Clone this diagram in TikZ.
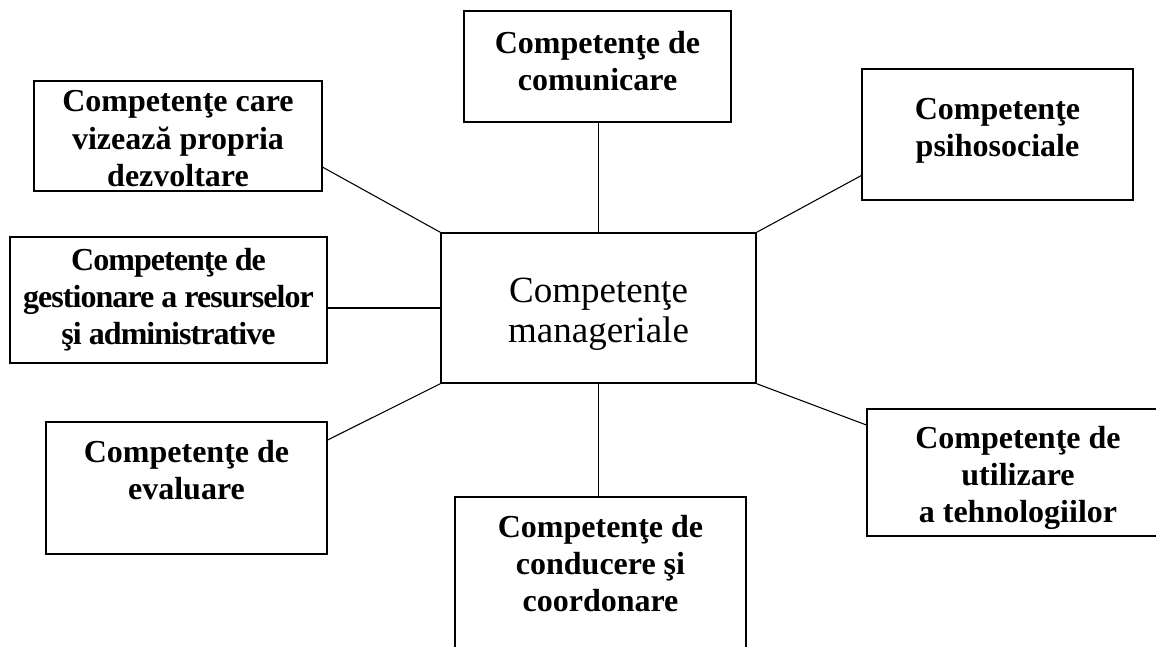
\documentclass[tikz,border=0pt]{standalone}
\usepackage{fontspec}
\setmainfont{Liberation Serif}
\usetikzlibrary{positioning}
\usetikzlibrary{calc}
\tikzset{
	compBox/.style={rectangle, draw=black, line width=1.1pt, inner sep=0pt},
	boxDim/.style 2 args={minimum width=#1*0.75pt, minimum height=#2*0.75pt},
	compText/.style={align=center, inner sep=0pt, font=\fontsize{24}{28}\selectfont\bfseries},
	tightText/.style={compText, font=\fontsize{24}{28}\selectfont\bfseries\addfontfeature{LetterSpace=-3}},
	mainText/.style={align=center, inner sep=0pt, font=\fontsize{27.75}{30}\selectfont},
	link/.style={line width=0.8pt},
}

\begin{document}
\begin{tikzpicture}[x=0.75pt, y=-0.75pt]

		% page frame - the two lower boxes run off the page
		\path[use as bounding box, clip] (0,0) rectangle (1156,646);

		% central box
		\node[compBox, boxDim={315}{150}] (mgr) at (598.5,308) {};
		\node[mainText, below=33.75pt of mgr.north] (mgrTxt) {Competenţe\\manageriale};

		% surrounding boxes
		\node[compBox, boxDim={267}{111}] (comm) at (597.5,66.5) {};
		\node[compBox, boxDim={288}{110}] (dev) at (178,136) {};
		\node[compBox, boxDim={271}{131}] (psy) at (997.5,134.5) {};
		\node[compBox, boxDim={317}{126}] (res) at (168.5,300) {};
		\node[compBox, boxDim={281}{132}] (eval) at (186.5,488) {};
		\node[compBox, boxDim={291}{220}] (lead) at (600.5,607) {};
		\node[compBox, boxDim={302}{127}] (tech) at (1018,472.5) {};

		% box texts, hung from the top edge
		\node[compText, below=15.2pt of comm.north] (commTxt) {Competenţe de\\comunicare};
		\node[compText, below=7.7pt of dev.north] (devTxt) {Competenţe care\\vizează propria\\dezvoltare};
		\node[compText, below=22pt of psy.north] (psyTxt) {Competenţe\\psihosociale};
		\node[tightText, below=8.5pt of res.north] (resTxt) {Competenţe de\\gestionare a resurselor\\şi administrative};
		\node[compText, below=13.7pt of eval.north] (evalTxt) {Competenţe de\\evaluare};
		\node[compText, below=13.7pt of lead.north] (leadTxt) {Competenţe de\\conducere şi\\coordonare};
		\node[compText, below=13pt of tech.north] (techTxt) {Competenţe de\\utilizare\\a tehnologiilor};

		% connectors to the central box
		\draw[link] (mgr.north) -- (mgr.north |- comm.south);
		\draw[link] (mgr.south) -- (mgr.south |- lead.north);
		\draw[link] (mgr.west) -- (mgr.west -| res.east);
		\draw[link] (mgr.north west) -- ($(dev.south east)!0.22!(dev.north east)$);
		\draw[link] (mgr.north east) -- ($(psy.south west)!0.19!(psy.north west)$);
		\draw[link] (mgr.south west) -- ($(eval.north east)!0.14!(eval.south east)$);
		\draw[link] (mgr.south east) -- ($(tech.north west)!0.13!(tech.south west)$);

	\end{tikzpicture}
\end{document}
